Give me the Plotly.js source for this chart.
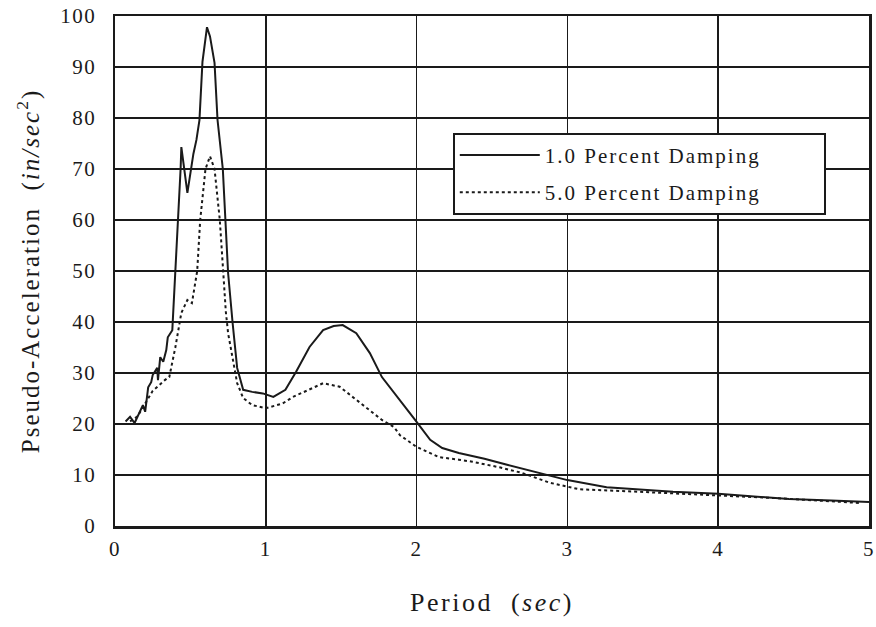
<!DOCTYPE html>
<html>
<head>
<meta charset="utf-8">
<script src="https://cdn.plot.ly/plotly-3.0.1.min.js"></script>
<style>
  html, body { margin: 0; padding: 0; background: #fff; }
  #chart { width: 876px; height: 627px; }
  .xtick text, .ytick text { letter-spacing: 1.5px; }
  .xtitle { letter-spacing: 2.5px; }
  .ytitle { letter-spacing: 2px; }
  .legendtext { letter-spacing: 2px; }
</style>
</head>
<body>
<div id="chart"></div>
<script>
// Period (sec) and pseudo-acceleration (in/sec^2), 1.0 percent damping
const period1 = [0.07, 0.08, 0.10, 0.13, 0.17, 0.185, 0.20, 0.22, 0.24, 0.25, 0.28, 0.285, 0.30, 0.32, 0.34, 0.35, 0.38,
  0.40, 0.42, 0.435, 0.44, 0.48, 0.52, 0.54, 0.56, 0.58, 0.61, 0.63, 0.66, 0.68, 0.715, 0.73, 0.75, 0.78, 0.81, 0.85,
  0.91, 0.98, 1.05, 1.13, 1.20, 1.29, 1.38, 1.45, 1.51, 1.60, 1.69, 1.77, 1.89, 1.99, 2.09, 2.17, 2.28, 2.45, 2.60,
  2.81, 3.00, 3.26, 3.50, 3.70, 4.00, 4.47, 4.75, 5.00];
const accel1 = [20.5, 20.8, 21.4, 20.2, 22.7, 23.7, 22.4, 27.2, 28.2, 29.6, 31.0, 28.6, 33.1, 32.2, 34.5, 37.0, 38.4,
  49.6, 60.0, 70.0, 74.3, 65.3, 73.0, 75.7, 79.6, 91.0, 97.8, 96.0, 90.8, 79.6, 70.0, 60.0, 49.6, 39.8, 31.0, 26.7,
  26.3, 26.0, 25.3, 26.7, 30.2, 35.1, 38.4, 39.2, 39.4, 37.8, 33.9, 29.2, 24.7, 20.8, 16.9, 15.3, 14.3, 13.2, 12.0,
  10.4, 9.0, 7.6, 7.1, 6.7, 6.3, 5.3, 5.0, 4.7];

// 5.0 percent damping
const period5 = [0.10, 0.15, 0.20, 0.25, 0.30, 0.33, 0.36, 0.38, 0.40, 0.44, 0.48, 0.51, 0.53, 0.545, 0.565, 0.60,
  0.63, 0.66, 0.695, 0.715, 0.735, 0.75, 0.78, 0.81, 0.85, 0.91, 1.00, 1.11, 1.18, 1.25, 1.38, 1.49, 1.62, 1.77,
  1.85, 1.89, 2.00, 2.09, 2.15, 2.28, 2.37, 2.55, 2.70, 2.88, 3.08, 3.48, 3.92, 4.36, 4.95];
const accel5 = [20.5, 21.5, 24.0, 26.5, 27.8, 28.6, 29.2, 32.0, 35.0, 41.8, 44.3, 43.7, 47.6, 50.0, 60.0, 70.0,
  72.5, 70.0, 60.0, 50.0, 42.0, 37.8, 32.5, 28.0, 25.1, 23.7, 23.1, 24.0, 25.3, 26.3, 28.0, 27.3, 24.3, 20.8,
  19.4, 17.8, 15.5, 14.3, 13.5, 13.0, 12.6, 11.5, 10.4, 8.5, 7.2, 6.7, 6.1, 5.5, 4.5];

const seriesNames = ['1.0 Percent Damping', '5.0 Percent Damping'];
const xTicks = [0, 1, 2, 3, 4, 5];
const yTicks = [0, 10, 20, 30, 40, 50, 60, 70, 80, 90, 100];

const serif = '"Liberation Serif", "Times New Roman", serif';
const ink = '#1a1a1a';
// trailing non-breaking spaces only widen the legend box (invisible)
const pad = '\u00a0'.repeat(8);

const traces = [
  {
    x: period1, y: accel1, type: 'scatter', mode: 'lines',
    name: seriesNames[0] + pad, legendgroup: 'a',
    line: { color: ink, width: 2 }
  },
  {
    x: period5, y: accel5, type: 'scatter', mode: 'lines',
    name: seriesNames[1] + pad, legendgroup: 'b',
    line: { color: ink, width: 2, dash: 'dot' }
  }
];

const layout = {
  width: 876, height: 627,
  margin: { l: 115, r: 7, t: 16, b: 101, autoexpand: false },
  paper_bgcolor: '#fff', plot_bgcolor: '#fff',
  font: { family: serif, color: ink, size: 20 },
  showlegend: true,
  legend: {
    x: 0.448, y: 0.771, xanchor: 'left', yanchor: 'top',
    bgcolor: '#fff', bordercolor: ink, borderwidth: 2,
    font: { family: serif, size: 21, color: ink },
    itemwidth: 80, traceorder: 'grouped', tracegroupgap: 7
  },
  xaxis: {
    range: [0, 5], tickvals: xTicks, ticktext: xTicks.map(String),
    showgrid: true, gridcolor: ink, gridwidth: 1.6,
    showline: true, linecolor: ink, linewidth: 2.5, mirror: true,
    ticks: '', zeroline: false, ticklabelstandoff: 2,
    tickfont: { family: serif, size: 21, color: ink },
    title: { text: 'Period  (<i>sec</i>)', font: { family: serif, size: 26, color: ink }, standoff: 33 }
  },
  yaxis: {
    range: [0, 100], tickvals: yTicks, ticktext: yTicks.map(String),
    showgrid: true, gridcolor: ink, gridwidth: 1.6,
    showline: true, linecolor: ink, linewidth: 2.5, mirror: true,
    ticks: '', zeroline: false, ticklabelstandoff: 12,
    tickfont: { family: serif, size: 21, color: ink },
    title: { text: 'Pseudo-Acceleration  (<i>in/sec</i><sup>2</sup>)', font: { family: serif, size: 25, color: ink }, standoff: 14 }
  }
};

Plotly.newPlot('chart', traces, layout, { displayModeBar: false, staticPlot: true });
</script>
</body>
</html>
